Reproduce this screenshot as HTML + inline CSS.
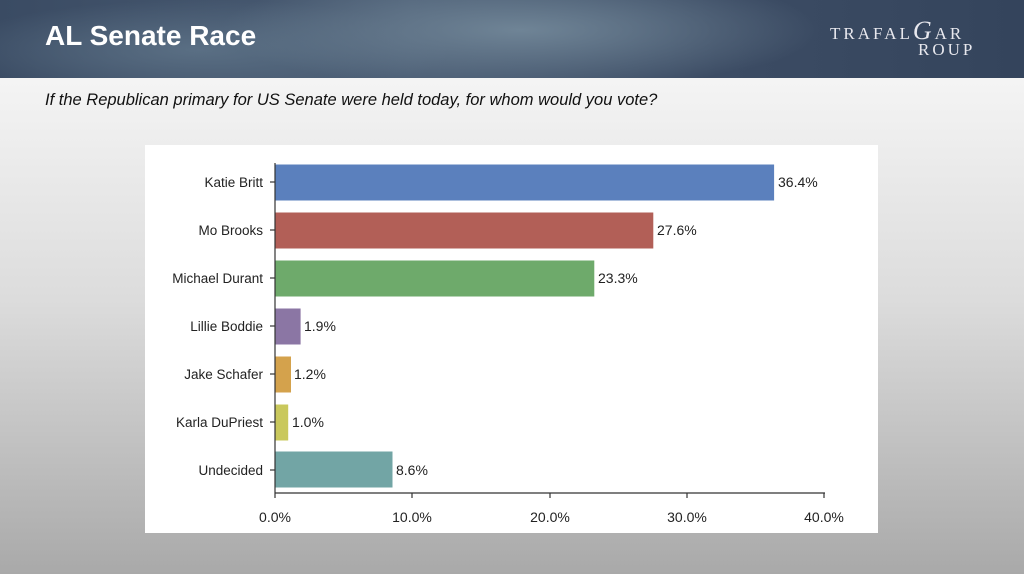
<!DOCTYPE html>
<html><head><meta charset="utf-8"><style>
html,body{margin:0;padding:0}
body{width:1024px;height:574px;position:relative;overflow:hidden;font-family:"Liberation Sans",sans-serif;
background:linear-gradient(180deg,#f4f4f4 80px,#dcdcdc 300px,#a9a9a9 574px);}
#hdr{position:absolute;left:0;top:0;width:1024px;height:78px;
background:radial-gradient(ellipse 300px 60px at 520px 30px,#6f8496,transparent),radial-gradient(ellipse 250px 50px at 200px 50px,#5a6f84,transparent),linear-gradient(90deg,#3a4b63,#4b5d74 40%,#3c4c64 70%,#34445c);}
#title{position:absolute;left:45px;top:20px;color:#fff;font-weight:bold;font-size:28px}
#logo{position:absolute;left:830px;top:16px;color:#e8e8ee;font-family:"Liberation Serif",serif;font-size:17px;letter-spacing:3px}
#sub{position:absolute;left:45px;top:91px;font-style:italic;font-size:16.5px;color:#111}
#panel{position:absolute;left:145px;top:145px;width:733px;height:388px;background:#fff}
</style></head><body>
<div id="hdr"></div>
<div id="title">AL Senate Race</div>
<div id="logo"><div>TRAFAL<span style="font-style:italic;font-size:26px">G</span>AR</div><div style="margin-left:88px;margin-top:-6px">ROUP</div></div>
<div id="sub">If the Republican primary for US Senate were held today, for whom would you vote?</div>
<div id="panel"></div>
<svg width="1024" height="574" style="position:absolute;left:0;top:0" font-family="Liberation Sans, sans-serif" font-size="13.5" fill="#222">
<g stroke="#fff" stroke-width="1">
<rect x="275" y="164" width="499.6" height="37" fill="#5b80bd"/>
<rect x="275" y="212" width="378.8" height="37" fill="#b25f57"/>
<rect x="275" y="260" width="319.8" height="37" fill="#6eaa6b"/>
<rect x="275" y="308" width="26.1" height="37" fill="#8b76a4"/>
<rect x="275" y="356" width="16.5" height="37" fill="#d4a24c"/>
<rect x="275" y="404" width="13.7" height="37" fill="#c9c85c"/>
<rect x="275" y="451" width="118" height="37" fill="#72a5a5"/>
</g>
<g stroke="#333" stroke-width="1.2">
<line x1="275" y1="163" x2="275" y2="493"/><line x1="275" y1="493" x2="825" y2="493"/>
<line x1="275" y1="493" x2="275" y2="498"/><line x1="412" y1="493" x2="412" y2="498"/><line x1="550" y1="493" x2="550" y2="498"/><line x1="687" y1="493" x2="687" y2="498"/><line x1="824" y1="493" x2="824" y2="498"/>
<line x1="270" y1="182" x2="275" y2="182"/><line x1="270" y1="230" x2="275" y2="230"/><line x1="270" y1="278" x2="275" y2="278"/><line x1="270" y1="326" x2="275" y2="326"/><line x1="270" y1="374" x2="275" y2="374"/><line x1="270" y1="422" x2="275" y2="422"/><line x1="270" y1="470" x2="275" y2="470"/>
</g>
<g text-anchor="end">
<text x="263" y="187">Katie Britt</text><text x="263" y="235">Mo Brooks</text><text x="263" y="283">Michael Durant</text><text x="263" y="331">Lillie Boddie</text><text x="263" y="379">Jake Schafer</text><text x="263" y="427">Karla DuPriest</text><text x="263" y="475">Undecided</text>
</g>
<g font-size="14">
<text x="778" y="187">36.4%</text><text x="657" y="235">27.6%</text><text x="598" y="283">23.3%</text><text x="304" y="331">1.9%</text><text x="294" y="379">1.2%</text><text x="292" y="427">1.0%</text><text x="396" y="475">8.6%</text>
</g>
<g text-anchor="middle" font-size="14">
<text x="275" y="522">0.0%</text><text x="412" y="522">10.0%</text><text x="550" y="522">20.0%</text><text x="687" y="522">30.0%</text><text x="824" y="522">40.0%</text>
</g>
</svg>
</body></html>
